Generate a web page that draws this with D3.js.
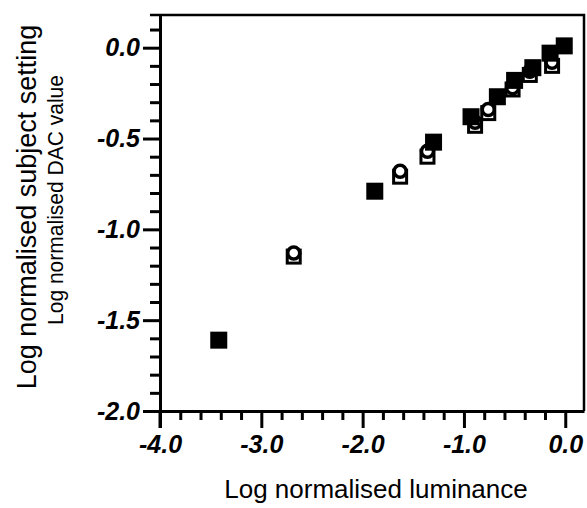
<!DOCTYPE html>
<html>
<head>
<meta charset="utf-8">
<script src="https://cdn.jsdelivr.net/npm/d3@7"></script>
<style>
  body { margin: 0; background: #fff; }
  svg { display: block; }
  text { font-family: "Liberation Sans", Arial, sans-serif; fill: #000; }
</style>
</head>
<body>
<div id="chart"></div>
<script>
// filled squares
const filledX = [-3.42, -1.88, -1.30, -0.93, -0.67, -0.50, -0.32, -0.15, -0.01];
const filledY = [-1.61, -0.79, -0.52, -0.38, -0.27, -0.18, -0.11, -0.03, 0.01];
// open squares
const openSqX = [-2.68, -1.63, -1.36, -0.89, -0.76, -0.52, -0.35, -0.13];
const openSqY = [-1.15, -0.71, -0.60, -0.43, -0.36, -0.23, -0.15, -0.10];
// open circles
const circleX = [-2.68, -1.63, -1.36, -0.89, -0.76, -0.52, -0.35, -0.13];
const circleY = [-1.13, -0.68, -0.57, -0.41, -0.34, -0.22, -0.13, -0.08];

const xMajor = [-4, -3, -2, -1, 0];
const xMajorLabels = ["-4.0", "-3.0", "-2.0", "-1.0", "0.0"];
const yMajor = [0, -0.5, -1, -1.5, -2];
const yMajorLabels = ["0.0", "-0.5", "-1.0", "-1.5", "-2.0"];

const xLabel = "Log normalised luminance";
const yLabel1 = "Log normalised subject setting";
const yLabel2 = "Log normalised DAC value";

const props = {
  width: 587, height: 508,
  left: 160, right: 3, top: 15, bottom: 97
};

const svg = d3.select("#chart").append("svg")
    .attr("width", props.width)
    .attr("height", props.height);

const x = d3.scaleLinear()
    .domain([-4, 0.185])
    .range([props.left, props.width - props.right]);
const y = d3.scaleLinear()
    .domain([-2, 0.18])
    .range([props.height - props.bottom, props.top]);

const xMinor = d3.range(-4, 0.01, 0.2).map(d => +d.toFixed(1)).filter(d => !xMajor.includes(d));
const yMinor = d3.range(-2, 0.15, 0.1).map(d => +d.toFixed(1)).filter(d => !yMajor.includes(d));

const g = svg.append("g");

// frame top / right
g.append("path")
    .attr("d", `M${x(-4) - 10},${y(0.18)}H${x(0.185)}V${y(-2)}`)
    .attr("fill", "none")
    .attr("stroke", "#000")
    .attr("stroke-width", 2.5);

// minor ticks
g.append("g")
    .attr("transform", `translate(0,${y(-2)})`)
    .call(d3.axisBottom(x).tickValues(xMinor).tickSize(9).tickSizeOuter(0).tickFormat(""))
    .call(a => a.select(".domain").remove())
    .selectAll("line").attr("stroke-width", 3);

g.append("g")
    .attr("transform", `translate(${x(-4)},0)`)
    .call(d3.axisLeft(y).tickValues(yMinor).tickSize(10).tickSizeOuter(0).tickFormat(""))
    .call(a => a.select(".domain").remove())
    .selectAll("line").attr("stroke-width", 3);

// major ticks
const xAxis = g.append("g")
    .attr("class", "x axis")
    .attr("transform", `translate(0,${y(-2)})`)
    .call(d3.axisBottom(x).tickValues(xMajor).tickSize(17).tickSizeOuter(0)
      .tickPadding(7).tickFormat((d, i) => xMajorLabels[i]));
xAxis.select(".domain").attr("stroke-width", 3);
xAxis.selectAll("line").attr("stroke-width", 3);

const yAxis = g.append("g")
    .attr("class", "y axis")
    .attr("transform", `translate(${x(-4)},0)`)
    .call(d3.axisLeft(y).tickValues(yMajor).tickSize(17).tickSizeOuter(0)
      .tickPadding(3).tickFormat((d, i) => yMajorLabels[i]));
yAxis.select(".domain").attr("stroke-width", 3);
yAxis.selectAll("line").attr("stroke-width", 3);

// axis line runs a little below the x axis
g.append("line")
    .attr("x1", x(-4)).attr("x2", x(-4))
    .attr("y1", y(-2)).attr("y2", y(-2) + 17)
    .attr("stroke", "#000").attr("stroke-width", 3);

svg.selectAll(".axis text")
    .style("font-size", "25px")
    .style("font-style", "italic")
    .style("font-weight", "bold");

// open squares
const s = 16;
g.selectAll(".osq")
    .data(d3.zip(openSqX, openSqY))
  .enter().append("rect")
    .attr("class", "osq")
    .attr("x", d => x(d[0]) - s / 2 + 1.5)
    .attr("y", d => y(d[1]) - s / 2 + 1.5)
    .attr("width", s - 3)
    .attr("height", s - 3)
    .attr("fill", "#fff")
    .attr("stroke", "#000")
    .attr("stroke-width", 3);

// open circles
g.selectAll(".oc")
    .data(d3.zip(circleX, circleY))
  .enter().append("circle")
    .attr("class", "oc")
    .attr("cx", d => x(d[0]))
    .attr("cy", d => y(d[1]))
    .attr("r", 6)
    .attr("fill", "#fff")
    .attr("stroke", "#000")
    .attr("stroke-width", 3.5);

// filled squares
g.selectAll(".fsq")
    .data(d3.zip(filledX, filledY))
  .enter().append("rect")
    .attr("class", "fsq")
    .attr("x", d => x(d[0]) - 8.5)
    .attr("y", d => y(d[1]) - 8.5)
    .attr("width", 17)
    .attr("height", 17)
    .attr("fill", "#000");

// x axis title
svg.append("text")
    .attr("x", 376)
    .attr("y", 498)
    .style("text-anchor", "middle")
    .style("font-size", "26px")
    .text(xLabel);

// y axis titles
svg.append("text")
    .attr("transform", "translate(36,207) rotate(-90)")
    .style("text-anchor", "middle")
    .style("font-size", "27px")
    .text(yLabel1);

svg.append("text")
    .attr("transform", "translate(63,200) rotate(-90)")
    .style("text-anchor", "middle")
    .style("font-size", "22px")
    .attr("textLength", 250)
    .attr("lengthAdjust", "spacingAndGlyphs")
    .text(yLabel2);
</script>
</body>
</html>
